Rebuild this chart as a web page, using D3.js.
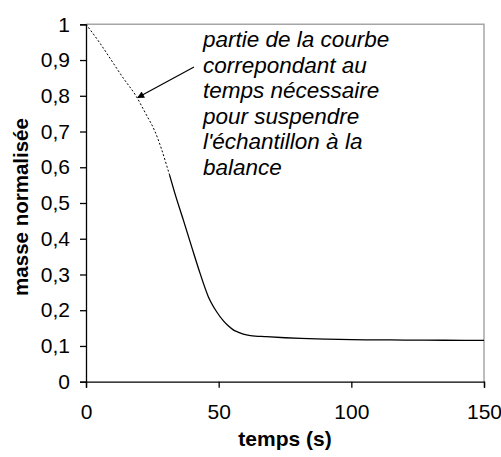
<!DOCTYPE html>
<html>
<head>
<meta charset="utf-8">
<script src="https://cdn.jsdelivr.net/npm/d3@7"></script>
<style>
  html, body { margin: 0; padding: 0; background: #fff; }
  svg { display: block; font-family: Arial, "Liberation Sans", sans-serif; }
</style>
</head>
<body>
<svg id="chart" width="501" height="457"></svg>
<script>
// Part of the curve recorded while the sample was being hung (dashed)
const hangTime = [0, 5, 9.5, 14, 18.8, 22.5, 26, 28.5, 30.6, 31.5];
const hangMass = [1, 0.95, 0.9, 0.85, 0.8, 0.75, 0.7, 0.65, 0.6, 0.578];

// Measured normalised mass (solid)
const measTime = [31.5, 33.5, 36.7, 39.8, 43, 46.1, 49.3, 51.8, 53.5, 55.5, 57.5, 59.3, 62, 68, 75, 81, 90, 100, 110, 120, 135, 150];
const measMass = [0.578, 0.527, 0.452, 0.378, 0.303, 0.238, 0.195, 0.170, 0.157, 0.145, 0.138, 0.133, 0.129, 0.126, 0.123, 0.121, 0.119, 0.1175, 0.117, 0.1165, 0.116, 0.1155];

const xTicks = [0, 50, 100, 150];
const yTicks = [0, 0.1, 0.2, 0.3, 0.4, 0.5, 0.6, 0.7, 0.8, 0.9, 1];

const noteLines = [
  "partie de la courbe",
  "correpondant au",
  "temps nécessaire",
  "pour suspendre",
  "l'échantillon à la",
  "balance"
];

const svg = d3.select("#chart");
const plotLeft = 86, plotRight = 484, plotTop = 24.3, plotBottom = 381.7;

const x = d3.scaleLinear().domain([0, 150]).range([plotLeft, plotRight]);
const y = d3.scaleLinear().domain([0, 1]).range([plotBottom, plotTop]);

// plot-area frame (top and right edges)
svg.append("path")
  .attr("d", `M${plotLeft},${plotTop}H${plotRight}V${plotBottom}`)
  .attr("fill", "none")
  .attr("stroke", "#a6a6a6")
  .attr("stroke-width", 1.5);

const fmt = d => d3.format("~g")(d).replace(".", ",");

const yAxis = svg.append("g")
  .attr("transform", `translate(${plotLeft},0)`)
  .call(d3.axisLeft(y).tickValues(yTicks).tickFormat(fmt).tickSize(6).tickPadding(10));

const xAxis = svg.append("g")
  .attr("transform", `translate(0,${plotBottom})`)
  .call(d3.axisBottom(x).tickValues(xTicks).tickFormat(fmt).tickSize(6).tickPadding(16));

[xAxis, yAxis].forEach(g => {
  g.select(".domain").attr("stroke", "#000").attr("stroke-width", 1.3);
  g.selectAll(".tick line").attr("stroke", "#000").attr("stroke-width", 1.3);
  g.selectAll(".tick text")
    .attr("fill", "#000")
    .style("font-size", "21px")
    .style("font-family", "Arial, 'Liberation Sans', sans-serif");
});

const line = d3.line()
  .x(d => x(d[0]))
  .y(d => y(d[1]))
  .curve(d3.curveMonotoneX);

svg.append("path")
  .datum(d3.zip(hangTime, hangMass))
  .attr("d", line)
  .attr("fill", "none")
  .attr("stroke", "#000")
  .attr("stroke-width", 1)
  .attr("stroke-dasharray", "2,2");

svg.append("path")
  .datum(d3.zip(measTime, measMass))
  .attr("d", line)
  .attr("fill", "none")
  .attr("stroke", "#000")
  .attr("stroke-width", 1.3);

// annotation
svg.append("defs").append("marker")
  .attr("id", "arrowhead")
  .attr("viewBox", "0 0 10 10")
  .attr("refX", 9).attr("refY", 5)
  .attr("markerWidth", 9).attr("markerHeight", 7)
  .attr("markerUnits", "userSpaceOnUse")
  .attr("orient", "auto")
  .append("path")
  .attr("d", "M0,0L10,5L0,10z")
  .attr("fill", "#000");

svg.append("line")
  .attr("x1", 194).attr("y1", 67)
  .attr("x2", x(19.5)).attr("y2", y(0.795))
  .attr("stroke", "#000")
  .attr("stroke-width", 1.2)
  .attr("marker-end", "url(#arrowhead)");

svg.append("text")
  .attr("x", 203)
  .attr("y", 47)
  .style("font-size", "22.5px")
  .style("font-style", "italic")
  .selectAll("tspan")
  .data(noteLines)
  .join("tspan")
  .attr("x", 203)
  .attr("dy", (d, i) => i === 0 ? 0 : 25.6)
  .text(d => d);

// axis titles
svg.append("text")
  .attr("x", x(75))
  .attr("y", 446)
  .attr("text-anchor", "middle")
  .style("font-size", "21px")
  .style("font-weight", "bold")
  .text("temps (s)");

svg.append("text")
  .attr("transform", `translate(28,${(plotTop + plotBottom) / 2 + 4}) rotate(-90)`)
  .attr("text-anchor", "middle")
  .style("font-size", "20.5px")
  .style("font-weight", "bold")
  .text("masse normalisée");
</script>
</body>
</html>
